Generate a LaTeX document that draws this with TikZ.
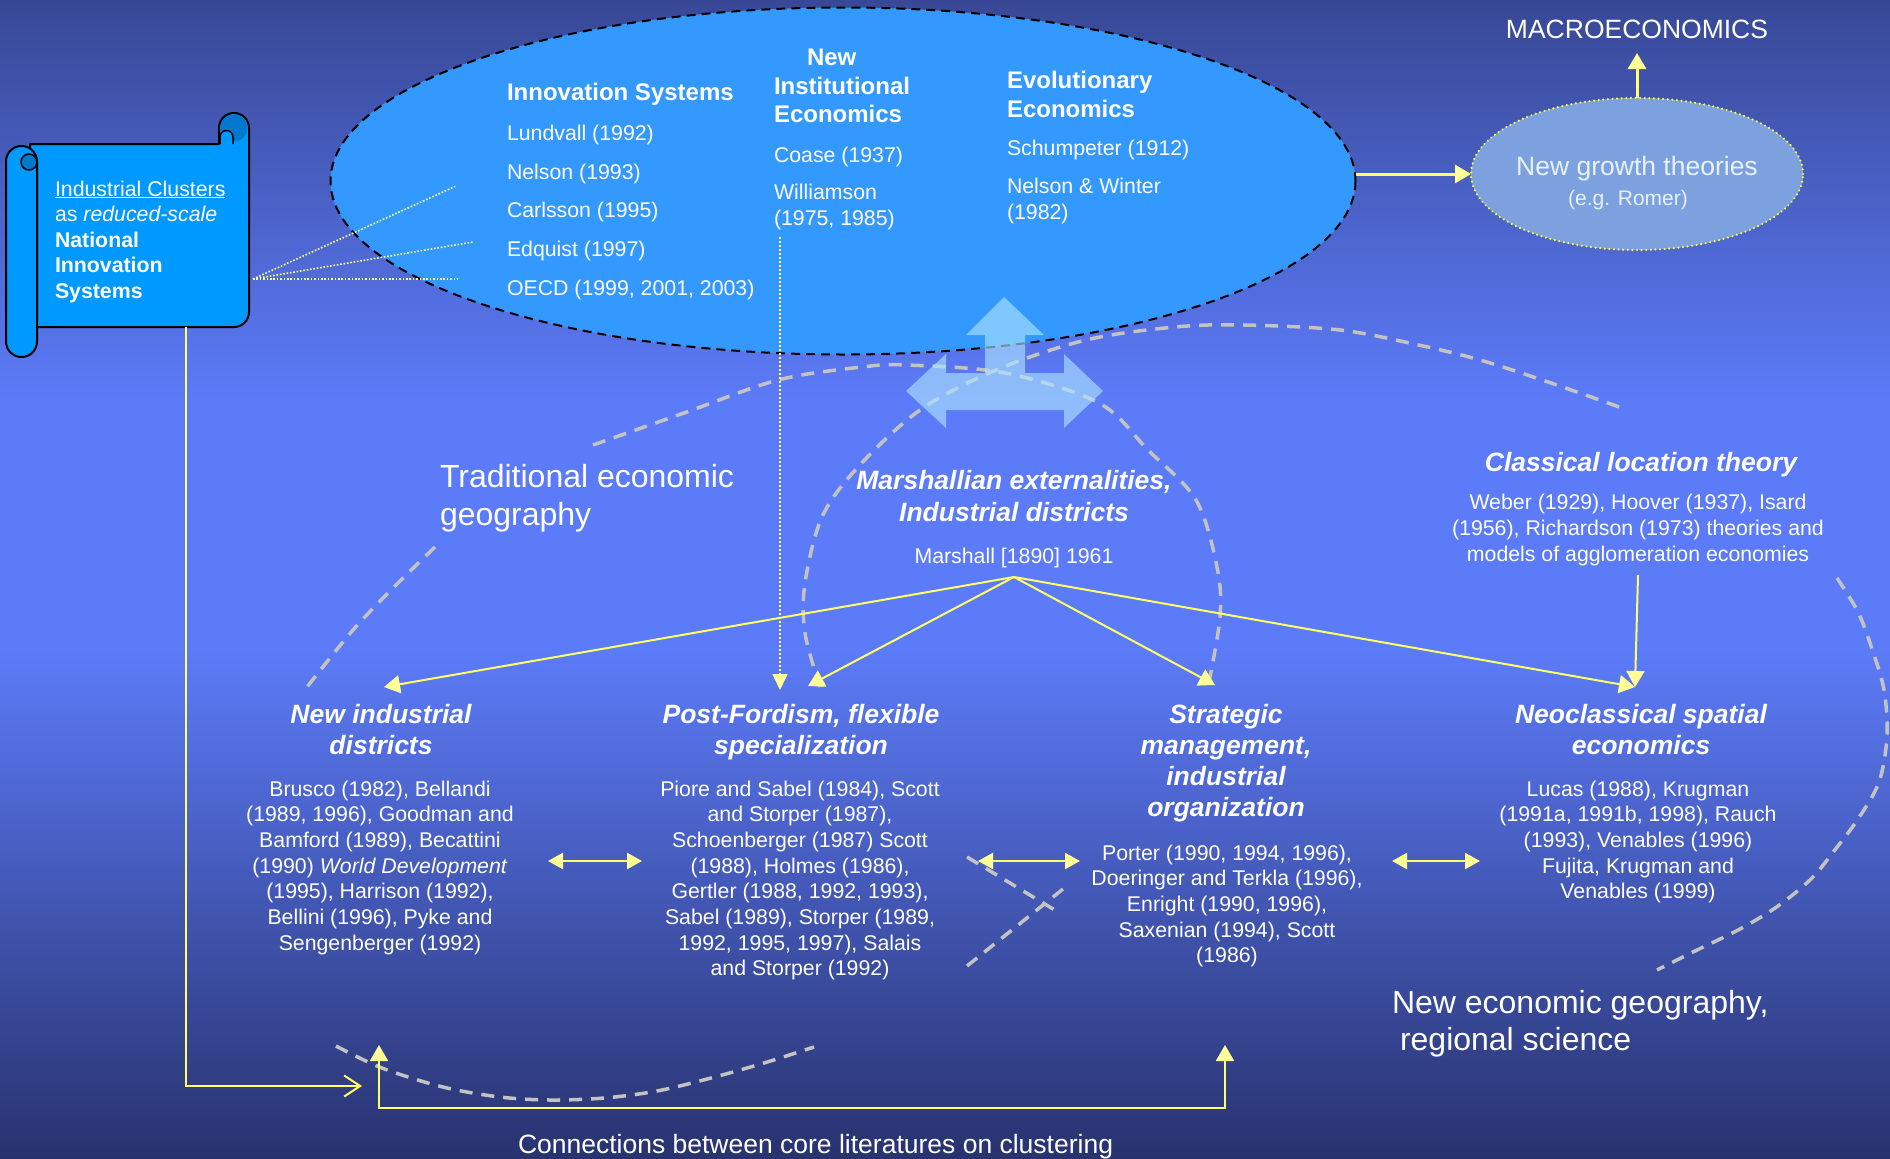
\documentclass[tikz,border=0pt]{standalone}
\usepackage{fontspec}
\setmainfont{Liberation Sans}
\usetikzlibrary{arrows.meta,shapes.geometric,calc}
\definecolor{bgTop}{RGB}{56,72,150}
\definecolor{bgMid}{RGB}{92,123,248}
\definecolor{bgBot}{RGB}{40,50,110}
\definecolor{innoBlue}{RGB}{51,153,255}
\definecolor{scrollBlue}{RGB}{0,153,255}
\definecolor{scrollDark}{RGB}{0,120,205}
\definecolor{growthFill}{RGB}{124,161,222}
\definecolor{yLine}{RGB}{255,255,102}
\definecolor{yHead}{RGB}{255,255,150}
\definecolor{yDot}{RGB}{255,255,60}
\definecolor{yDotLight}{RGB}{255,255,150}
\definecolor{curveGrey}{RGB}{195,195,195}
\definecolor{bigArrowCol}{RGB}{172,227,255}
\definecolor{growthText}{RGB}{232,242,255}
\tikzset{
  ytip/.tip={Triangle[length=16pt,width=18pt,color=yHead]},
  ysmall/.tip={Triangle[length=15pt,width=16pt,color=yHead]},
  ybarb/.tip={Straight Barb[length=16pt,width=21pt]},
}
\begin{document}
\begin{tikzpicture}[x=1pt,y=-1pt,
  every node/.style={inner sep=0pt,outer sep=0pt,text=white},
  citeTxt/.style={font=\fontsize{21.3}{25.7}\selectfont},
  citeBlock/.style={citeTxt,align=center,anchor=north},
  headIt/.style={font=\fontsize{26.5}{31.3}\selectfont\bfseries\itshape,align=center,anchor=north},
  eHead/.style={font=\fontsize{24}{28.5}\selectfont\bfseries},
  bigTxt/.style={font=\fontsize{32}{38}\selectfont},
  midTxt/.style={font=\fontsize{26.5}{31}\selectfont},
  greyDash/.style={draw=curveGrey,line width=3.5pt,dash pattern=on 13pt off 9pt},
  yConn/.style={draw=yLine,line width=2pt},
  yThick/.style={draw=yLine,line width=3pt},
  yDbl/.style={draw=yLine,line width=2.5pt,{ysmall}-{ysmall}},
  scrollDots/.style={draw=yDotLight,line width=1.6pt,dash pattern=on 1.6pt off 1.8pt},
]
\useasboundingbox (0,0) rectangle (1890,1159);
% background
\shade[top color=bgTop,bottom color=bgMid] (0,0) rectangle (1890,401);
\fill[bgMid] (0,400) rectangle (1890,651);
\shade[top color=bgMid,bottom color=bgBot] (0,650) rectangle (1890,1159);

% big ellipse
\node[ellipse,draw=black,line width=2pt,dash pattern=on 9pt off 6pt,fill=innoBlue,
      minimum width=1025pt,minimum height=347pt] (inno) at (843,181) {};

% grey dashed curves
\begin{scope}[greyDash]
\draw plot[smooth,tension=0.55] coordinates {(435,547) (394,587) (353,630) (307,687)};
\draw plot[smooth,tension=0.55] coordinates {(593,445) (684,413) (778,380) (862,367) (907,365) (1005,373) (1099,403) (1148,450) (1196,500) (1217,567) (1220,617) (1208,687)};
\draw (967,966) -- (1063,889);
\draw plot[smooth,tension=0.55] coordinates {(336,1046) (382,1068) (443,1087) (500,1097) (550,1100) (604,1098) (657,1091) (711,1078) (764,1063) (814,1047)};
\draw plot[smooth,tension=0.55] coordinates {(820,687) (805,633) (805,583) (822,517) (858,467) (920,410) (996,370) (1086,340) (1175,327) (1244,325) (1340,330) (1414,344) (1480,360) (1551,383) (1622,408)};
\draw plot[smooth,tension=0.55] coordinates {(1837,578) (1858,612) (1872,649) (1884,690) (1887,736) (1879,782) (1858,819) (1834,851) (1811,879) (1778,906) (1740,929) (1693,952) (1657,970)};
\draw (967,857) -- (1058,912);
\end{scope}

% big translucent arrows
\fill[bigArrowCol,fill opacity=0.63] (1004,297) -- (1044,335) -- (1025,335) -- (1025,373) -- (1064,373) -- (1064,354) -- (1103,391) -- (1064,428) -- (1064,410) -- (946,410) -- (946,428) -- (906,391) -- (946,354) -- (946,373) -- (985,373) -- (985,335) -- (966,335) -- cycle;

% growth ellipse
\node[ellipse,fill=growthFill,draw=yDot,line width=2.4pt,line cap=round,dash pattern=on 0.01pt off 4.6pt,
      minimum width=332pt,minimum height=152pt] (growth) at (1637,174) {};
\node[midTxt,text=growthText,anchor=base] (ngt) at (1637,175) {New growth theories};
\node[font=\fontsize{21}{25}\selectfont,text=growthText,anchor=base] (romer) at (1628,205) {(e.g. Romer)};
\node[midTxt,anchor=base] (macro) at (1637,38) {MACROECONOMICS};
\coordinate (macroTip) at (1637,53);

% scroll
\begin{scope}[draw=black,line width=2pt,line join=round]
\filldraw[fill=scrollBlue] (30,144) -- (219,144) -- (219,128) arc[start angle=180,end angle=360,radius=15] -- (249,312) arc[start angle=0,end angle=90,radius=15] -- (30,327) -- cycle;
\fill[scrollDark] (234,128) circle[radius=13.5];
\filldraw[fill=scrollBlue,line width=1.5pt] (220,144) -- (220,137) arc[start angle=180,end angle=360,radius=6.5] -- (233,144);
\filldraw[fill=scrollBlue,rounded corners=15.5pt] (6,146) rectangle (37,357);
\filldraw[fill=scrollDark,line width=1.5pt] (29,162) circle[radius=8];
\end{scope}
\node[font=\fontsize{21.3}{25.5}\selectfont,align=left,anchor=north west] (scrolltxt) at (55,178.2)
  {\strut\underline{Industrial Clusters}\\as \textit{reduced-scale}\\\textbf{National}\\\textbf{Innovation}\\\textbf{Systems}};
\coordinate (scrollDot) at (253,279);
\coordinate (scrollBot) at (186,327);

% ellipse contents
\node[eHead,anchor=base west] (isHead) at (507,100) {Innovation Systems};
\node[citeTxt,anchor=base west] (lund) at (507,140) {Lundvall (1992)};
\node[citeTxt,anchor=base west] (nels) at (507,179) {Nelson (1993)};
\node[citeTxt,anchor=base west] (carl) at (507,217) {Carlsson (1995)};
\node[citeTxt,anchor=base west] (edq) at (507,256) {Edquist (1997)};
\node[citeTxt,anchor=base west] (oecd) at (507,295) {OECD (1999, 2001, 2003)};
\node[eHead,align=left,anchor=north west] (nie) at (774,46) {\strut\hspace*{33pt}New\\Institutional\\Economics};
\node[citeTxt,anchor=base west] (coase) at (774,162) {Coase (1937)};
\node[citeTxt,align=left,anchor=north west] (wil) at (774,182) {\strut Williamson\\(1975, 1985)};
\node[eHead,align=left,anchor=north west] (ee) at (1007,69) {\strut Evolutionary\\Economics};
\node[citeTxt,anchor=base west] (schum) at (1007,155) {Schumpeter (1912)};
\node[citeTxt,align=left,anchor=north west] (nw) at (1007,176) {\strut Nelson \& Winter\\(1982)};

% middle texts
\node[bigTxt,align=left,anchor=north west] (trad) at (440,460.4) {\strut Traditional economic\\geography};
\node[font=\fontsize{26.5}{32}\selectfont\bfseries\itshape,align=center,anchor=north] (marHead) at (1014,466.6) {\strut Marshallian externalities,\\Industrial districts};
\node[citeTxt,anchor=base] (marCite) at (1014,563) {Marshall [1890] 1961};
\node[font=\fontsize{26.5}{31}\selectfont\bfseries\itshape,anchor=base] (cltHead) at (1641,471) {Classical location theory};
\node[citeBlock] (cltCite) at (1638,492) {\strut Weber (1929), Hoover (1937), Isard\\(1956), Richardson (1973) theories and\\models of agglomeration economies};

% lower blocks
\node[headIt] (nidHead) at (381,701.1) {\strut New industrial\\districts};
\node[citeBlock] (nidCite) at (380,778) {\strut Brusco (1982), Bellandi\\(1989, 1996), Goodman and\\Bamford (1989), Becattini\\(1990) \textit{World Development}\\(1995), Harrison (1992),\\Bellini (1996), Pyke and\\Sengenberger (1992)};
\node[headIt] (pfHead) at (801,701.1) {\strut Post-Fordism, flexible\\specialization};
\node[citeBlock] (pfCite) at (800,778) {\strut Piore and Sabel (1984), Scott\\and Storper (1987),\\Schoenberger (1987) Scott\\(1988), Holmes (1986),\\Gertler (1988, 1992, 1993),\\Sabel (1989), Storper (1989,\\1992, 1995, 1997), Salais\\and Storper (1992)};
\node[headIt] (smHead) at (1226,701.1) {\strut Strategic\\management,\\industrial\\organization};
\node[citeBlock] (smCite) at (1227,842) {\strut Porter (1990, 1994, 1996),\\Doeringer and Terkla (1996),\\Enright (1990, 1996),\\Saxenian (1994), Scott\\(1986)};
\node[headIt] (nseHead) at (1641,701.1) {\strut Neoclassical spatial\\economics};
\node[citeBlock] (nseCite) at (1638,778) {\strut Lucas (1988), Krugman\\(1991a, 1991b, 1998), Rauch\\(1993), Venables (1996)\\Fujita, Krugman and\\Venables (1999)};
\node[font=\fontsize{32}{37}\selectfont,align=left,anchor=north west] (neg) at (1392,987.1) {\strut New economic geography,\\\hspace*{8pt}regional science};
\node[midTxt,anchor=base west] (conn) at (518,1153) {Connections between core literatures on clustering};

% coordinates for connector ends
\coordinate (marSrc) at (1014,577);
\coordinate (nidTip) at (384,687);
\coordinate (pfTip) at (808,686);
\coordinate (smTip) at (1215,685);
\coordinate (nseTip) at (1635,687);
\coordinate (cltSrc) at (1638,575);
\coordinate (pfDotTip) at (780,690);
\coordinate (dotA) at (456,186);
\coordinate (dotB) at (473,242);
\coordinate (dotC) at (458,279);
\coordinate (scrollTip) at (362,1086);
\coordinate (nidUp) at (379,1045);
\coordinate (smUp) at (1225,1045);
\coordinate (botLine) at (0,1108);
\coordinate (dA1) at (548,861); \coordinate (dA2) at (642,861);
\coordinate (dB1) at (978,861); \coordinate (dB2) at (1080,861);
\coordinate (dC1) at (1392,861); \coordinate (dC2) at (1480,861);

% connectors
\draw[yThick,-ytip] (inno.east |- growth.west) -- (growth.west);
\draw[yThick,-ytip] (growth.north) -- (macroTip);
\draw[yConn,-ytip] (marSrc) -- (nidTip);
\draw[yConn,-ytip] (marSrc) -- (pfTip);
\draw[yConn,-ytip] (marSrc) -- (smTip);
\draw[yConn,-ytip] (marSrc) -- (nseTip);
\draw[yConn,-ytip] (cltSrc) -- (nseTip);
\draw[draw=yHead,line width=1.5pt,dash pattern=on 1.5pt off 2.5pt,-{Triangle[length=16pt,width=15pt,color=yHead]}] ($(wil.south -| pfDotTip)+(0,7)$) -- (pfDotTip);
\draw[scrollDots] (scrollDot) -- (dotA);
\draw[scrollDots] (scrollDot) -- (dotB);
\draw[scrollDots] (scrollDot) -- (dotC);
\draw[yConn,-ybarb] (scrollBot) -- (scrollBot |- scrollTip) -- (scrollTip);
\draw[yConn,{ytip}-{ytip}] (nidUp) -- (nidUp |- botLine) -- (smUp |- botLine) -- (smUp);
\draw[yDbl] (dA1) -- (dA2);
\draw[yDbl] (dB1) -- (dB2);
\draw[yDbl] (dC1) -- (dC2);
\end{tikzpicture}
\end{document}
